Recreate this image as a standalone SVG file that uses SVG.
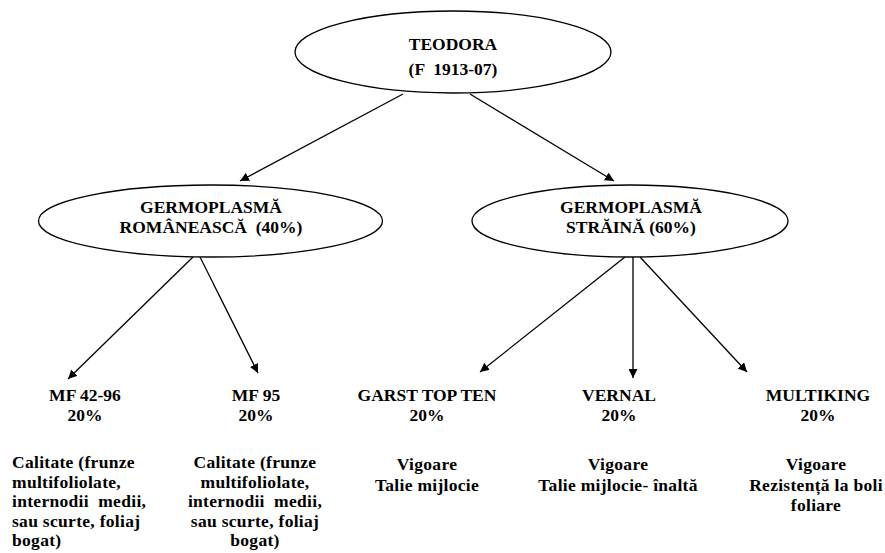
<svg xmlns="http://www.w3.org/2000/svg" width="885" height="553" viewBox="0 0 885 553">
<style>
  text { font-family: "Liberation Serif", "Times New Roman", serif; font-weight: bold; font-size: 17.5px; fill: #000; }
  .c { text-anchor: middle; }
  .d { letter-spacing: 0.3px; }
  .node ellipse { fill: #fff; stroke: #000; stroke-width: 1.3; }
  .conn line { stroke: #000; stroke-width: 1.3; marker-end: url(#arr); }
</style>
<defs>
  <marker id="arr" viewBox="0 0 10 10" refX="10" refY="5" markerWidth="9" markerHeight="9" markerUnits="userSpaceOnUse" orient="auto">
    <path d="M0,0 L10,5 L0,10 z" fill="#000"/>
  </marker>
</defs>
<rect width="885" height="553" fill="#fff"/>
<g id="connectors" class="conn">
  <line x1="403" y1="94" x2="240" y2="181"/>
  <line x1="470" y1="94" x2="614" y2="181"/>
  <line x1="193" y1="257" x2="68" y2="379"/>
  <line x1="200" y1="257" x2="258" y2="373"/>
  <line x1="625" y1="257" x2="480" y2="372"/>
  <line x1="633" y1="257" x2="633" y2="378"/>
  <line x1="640" y1="257" x2="747" y2="372"/>
</g>
<g id="teodora" class="node">
  <ellipse cx="453" cy="52" rx="158" ry="41"/>
  <text class="c" x="453" y="50">TEODORA</text>
  <text class="c" x="453" y="75" xml:space="preserve">(F  1913-07)</text>
</g>
<g id="germ-ro" class="node">
  <ellipse cx="210.5" cy="221" rx="172" ry="36"/>
  <text class="c" x="211" y="213">GERMOPLASMĂ</text>
  <text class="c" x="211" y="233" xml:space="preserve">ROMÂNEASCĂ  (40%)</text>
</g>
<g id="germ-str" class="node">
  <ellipse cx="630" cy="221" rx="158" ry="36"/>
  <text class="c" x="631" y="213">GERMOPLASMĂ</text>
  <text class="c" x="631" y="233">STRĂINĂ (60%)</text>
</g>
<g id="mf4296">
  <text class="c" x="85" y="401">MF 42-96</text>
  <text class="c" x="85" y="421">20%</text>
  <text class="d" x="12" y="468">Calitate (frunze</text>
  <text class="d" x="12" y="487.5">multifoliolate,</text>
  <text class="d" x="12" y="507" xml:space="preserve">internodii  medii,</text>
  <text class="d" x="12" y="526.5">sau scurte, foliaj</text>
  <text class="d" x="12" y="546">bogat)</text>
</g>
<g id="mf95">
  <text class="c" x="256" y="401">MF 95</text>
  <text class="c" x="256" y="421">20%</text>
  <text class="c d" x="255" y="468">Calitate (frunze</text>
  <text class="c d" x="255" y="487.5">multifoliolate,</text>
  <text class="c d" x="255" y="507" xml:space="preserve">internodii  medii,</text>
  <text class="c d" x="255" y="526.5">sau scurte, foliaj</text>
  <text class="c d" x="255" y="546">bogat)</text>
</g>
<g id="garst">
  <text class="c" x="427" y="401">GARST TOP TEN</text>
  <text class="c" x="427" y="421">20%</text>
  <text class="c d" x="427" y="470">Vigoare</text>
  <text class="c d" x="427" y="490.5">Talie mijlocie</text>
</g>
<g id="vernal">
  <text class="c" x="619" y="401">VERNAL</text>
  <text class="c" x="619" y="421">20%</text>
  <text class="c d" x="618" y="470">Vigoare</text>
  <text class="c d" x="618" y="490.5">Talie mijlocie- înaltă</text>
</g>
<g id="multiking">
  <text class="c" x="818" y="401">MULTIKING</text>
  <text class="c" x="818" y="421">20%</text>
  <text class="c d" x="816" y="470">Vigoare</text>
  <text class="c d" x="816" y="490.5">Rezistență la boli</text>
  <text class="c d" x="816" y="511">foliare</text>
</g>
</svg>
